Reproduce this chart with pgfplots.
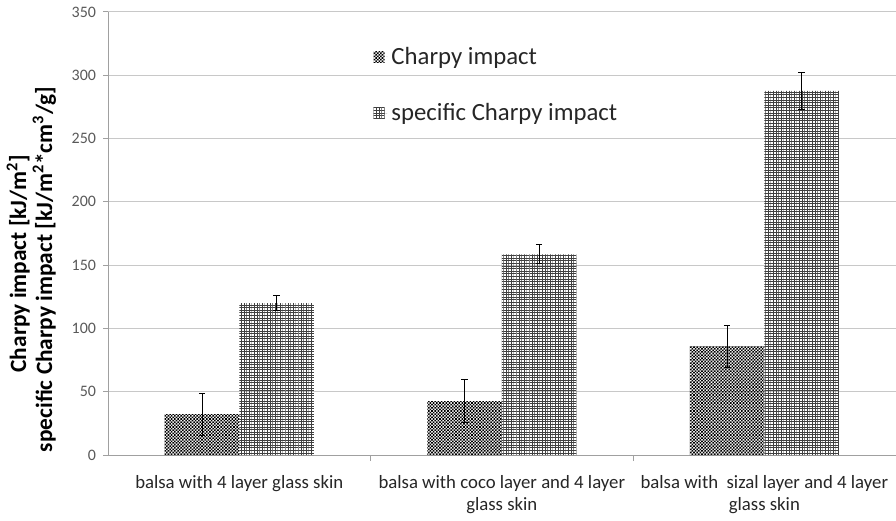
\documentclass[border=0pt]{standalone}
\usepackage{pgfplots}
\pgfplotsset{compat=1.18}
\usepackage{fontspec}
\setmainfont{Carlito}
\usetikzlibrary{patterns}
\pgfdeclarepatternformonly{finechecker}{\pgfqpoint{-0.1pt}{-0.1pt}}{\pgfqpoint{1.7pt}{1.7pt}}{\pgfqpoint{1.6pt}{1.6pt}}{%
  \pgfpathrectangle{\pgfpointorigin}{\pgfqpoint{0.8pt}{0.8pt}}%
  \pgfpathrectangle{\pgfqpoint{0.8pt}{0.8pt}}{\pgfqpoint{0.8pt}{0.8pt}}%
  \pgfusepath{fill}}
\pgfdeclarepatternformonly{finegrid}{\pgfqpoint{-0.1pt}{-0.1pt}}{\pgfqpoint{1.4pt}{1.4pt}}{\pgfqpoint{1.3pt}{1.3pt}}{%
  \pgfsetlinewidth{0.4pt}%
  \pgfpathmoveto{\pgfqpoint{0pt}{0pt}}\pgfpathlineto{\pgfqpoint{1.3pt}{0pt}}%
  \pgfpathmoveto{\pgfqpoint{0pt}{0pt}}\pgfpathlineto{\pgfqpoint{0pt}{1.3pt}}%
  \pgfusepath{stroke}}
\definecolor{tickgray}{RGB}{89,89,89}
\definecolor{gridgray}{RGB}{200,200,200}
\begin{document}
\begin{tikzpicture}
\begin{axis}[
  scale only axis,
  width=394.5pt, height=222pt,
  ybar, bar width=0.284,
  xmin=-0.5, xmax=2.5,
  ymin=0, ymax=350,
  ytick={0,50,...,350},
  xtick={0,1,2},
  xticklabels={balsa with 4 layer glass skin, {balsa with coco layer and 4 layer\\glass skin}, {balsa with\ \ sizal layer and 4 layer\\glass skin}},
  xticklabel style={align=center, font=\fontsize{9.4}{11.2}\selectfont, text=black!85, yshift=-4pt},
  yticklabel style={font=\fontsize{8}{9}\selectfont, text=tickgray},
  /pgf/number format/assume math mode=true,
  minor xtick={0.5,1.5},
  major x tick style={draw=none},
  minor x tick style={gridgray!80!black, thin},
  minor tick length=3pt,
  major tick length=2.5pt,
  tick align=outside,
  y tick style={gridgray!80!black, thin},
  axis x line*=bottom, axis y line*=left,
  axis line style={gridgray!80!black, -},
  ymajorgrids, grid style={gridgray, thin},
  ylabel={Charpy impact [kJ/m\textsuperscript{2}]\hspace*{30pt}\\specific Charpy impact [kJ/m\textsuperscript{2}*cm\textsuperscript{3}/g]\hspace*{36pt}},
  ylabel style={align=center, font=\bfseries\fontsize{11.7}{13}\selectfont},
  ylabel shift=1pt,
  legend style={at={(0.329,0.94)}, anchor=north west, draw=none, fill=none,
    font=\fontsize{12.4}{14}\selectfont, row sep=14pt, text=black!85},
  legend cell align=left,
  error bars/error bar style={black, thin},
  error bars/error mark options={rotate=90, mark size=1.6pt, black, thin},
]
\addplot[draw=none, pattern=finechecker, pattern color=black, bar shift=-0.142,
  legend image code/.code={\path (0pt,0pt) -- (7pt,0pt);\fill[pattern=finechecker, pattern color=black] (0pt,-2.6pt) rectangle (5.6pt,2.6pt);},
  error bars/.cd, y dir=both, y explicit]
  coordinates {(0,32.3) +- (0,16.5) (1,42.6) +- (0,17) (2,86) +- (0,16.5)};
\addlegendentry{Charpy impact}
\addplot[draw=none, pattern=finegrid, pattern color=black!75, bar shift=0.142,
  legend image code/.code={\path (0pt,0pt) -- (7pt,0pt);\fill[pattern=finegrid, pattern color=black!75] (0pt,-2.6pt) rectangle (5.6pt,2.6pt);},
  error bars/.cd, y dir=both, y explicit]
  coordinates {(0,120) +- (0,6) (1,158.5) +- (0,7.5) (2,287.7) +- (0,14.5)};
\addlegendentry{specific Charpy impact}
\end{axis}
\end{tikzpicture}
\end{document}
